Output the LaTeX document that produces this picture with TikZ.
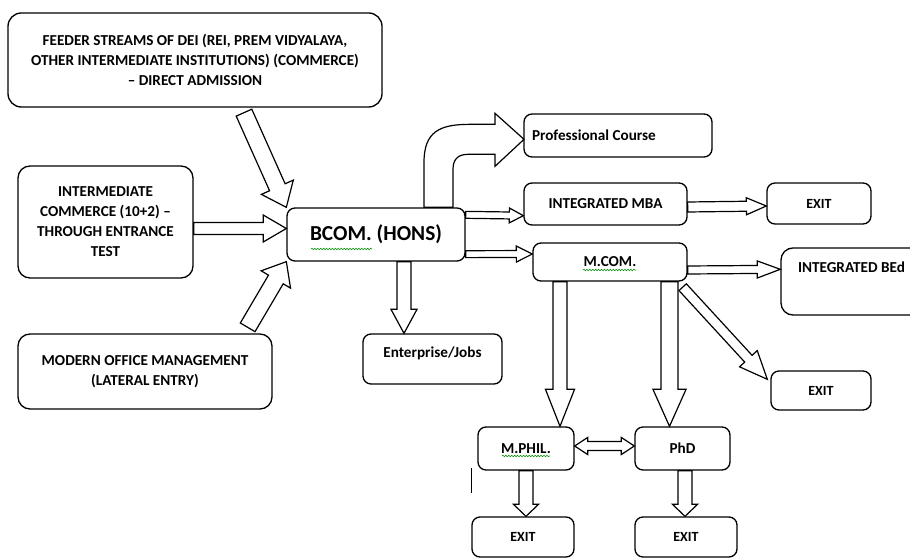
\documentclass[tikz,border=0pt]{standalone}
\usepackage{fontspec}
\setmainfont{Carlito}
\usetikzlibrary{calc,decorations.pathmorphing}

\tikzset{
  box/.style={draw, line width=1pt, rounded corners=6pt, align=center,
    font=\bfseries\fontsize{11.4}{15}\selectfont, inner sep=0pt},
  exitbox/.style={box, font=\bfseries\fontsize{10.5}{15}\selectfont},
  boxsize/.style 2 args={minimum width=#1*0.75pt, minimum height=#2*0.75pt},
  squiggle/.style={draw=green!55!black, line width=0.4pt,
    decorate, decoration={snake, amplitude=0.6pt, segment length=2.2pt}},
  fat size/.code n args={3}{\def\fatw{#1}\def\fath{#2}\def\fatl{#3}},
  fat/.style={draw, fill=white, line width=0.9pt, fat size/.expanded=#1, to path={
    let \p1=(\tikztostart), \p2=(\tikztotarget), \n1={atan2(\y2-\y1,\x2-\x1)} in
    ($(\p1)+(\n1+90:\fatw)$) -- ($(\p2)+(\n1+180:\fatl)+(\n1+90:\fatw)$)
    -- ($(\p2)+(\n1+180:\fatl)+(\n1+90:\fath)$) -- (\p2)
    -- ($(\p2)+(\n1+180:\fatl)+(\n1-90:\fath)$) -- ($(\p2)+(\n1+180:\fatl)+(\n1-90:\fatw)$)
    -- ($(\p1)+(\n1-90:\fatw)$) -- cycle}},
  fatboth/.style={draw, fill=white, line width=0.9pt, fat size/.expanded=#1, to path={
    let \p1=(\tikztostart), \p2=(\tikztotarget), \n1={atan2(\y2-\y1,\x2-\x1)} in
    ($(\p1)+(\n1:\fatl)+(\n1+90:\fatw)$) -- ($(\p2)+(\n1+180:\fatl)+(\n1+90:\fatw)$)
    -- ($(\p2)+(\n1+180:\fatl)+(\n1+90:\fath)$) -- (\p2)
    -- ($(\p2)+(\n1+180:\fatl)+(\n1-90:\fath)$) -- ($(\p2)+(\n1+180:\fatl)+(\n1-90:\fatw)$)
    -- ($(\p1)+(\n1:\fatl)+(\n1-90:\fatw)$) -- ($(\p1)+(\n1:\fatl)+(\n1-90:\fath)$)
    -- (\p1) -- ($(\p1)+(\n1:\fatl)+(\n1+90:\fath)$) -- cycle}}
}

\begin{document}
\begin{tikzpicture}[x=0.75pt, y=-0.75pt]
\path[use as bounding box, fill=white] (0,0) rectangle (910,559);

% Entry routes
\node[box, boxsize={374}{94}, rounded corners=10pt] (feeder) at (195,60)
  {FEEDER STREAMS OF DEI (REI, PREM VIDYALAYA,\\ OTHER INTERMEDIATE INSTITUTIONS) (COMMERCE)\\ -- DIRECT ADMISSION};
\node[box, boxsize={175}{112}, rounded corners=9pt] (inter) at (105.5,222)
  {INTERMEDIATE\\ COMMERCE (10+2) --\\ THROUGH ENTRANCE\\ TEST};
\node[box, boxsize={254}{75}, rounded corners=9pt] (modern) at (145,371.5)
  {MODERN OFFICE MANAGEMENT\\ (LATERAL ENTRY)};

% Programme
\node[box, boxsize={178}{53}, font=\bfseries\fontsize{16}{18}\selectfont] (bcom) at (376,234.5) {BCOM. (HONS)};
\node[box, boxsize={139}{50}, text height=17.6pt, text depth=19.9pt] (jobs) at (432.5,359) {Enterprise/Jobs};

% Next steps
\node[box, boxsize={188}{43}, align=justify, text width=129pt, inner xsep=6pt] (prof) at (618,135.5) {Professional Course};
\node[box, boxsize={163}{42}] (mba) at (605.5,204) {INTEGRATED MBA};
\node[exitbox, boxsize={104}{41}] (exitmba) at (819,203.5) {EXIT};
\node[box, boxsize={154}{38}] (mcom) at (610,262) {M.COM.};
\node[box, boxsize={160}{67}, align=justify, text width=94.5pt, inner xsep=12.75pt,
  text height=18.4pt, text depth=31.9pt, rounded corners=9pt] (bed) at (861,281.5) {INTEGRATED BEd};
\node[exitbox, boxsize={100}{39}] (exitmcom) at (821,390.5) {EXIT};
\node[box, boxsize={96}{43}] (mphil) at (526,448.5) {M.PHIL.};
\node[box, boxsize={95}{43}] (phd) at (682.5,448.5) {PhD};
\node[exitbox, boxsize={102}{40}] (exitmphil) at (523,537) {EXIT};
\node[exitbox, boxsize={102}{40}] (exitphd) at (686,537) {EXIT};

% Spell-check marks
\draw[squiggle] ($(bcom.center)+(-65,14.5)$) -- ($(bcom.center)+(-4,14.5)$);
\draw[squiggle] ($(mcom.center)+(-27,8)$) -- ($(mcom.center)+(26,8)$);
\draw[squiggle] ($(mphil.center)+(-24,7.5)$) -- ($(mphil.center)+(24,7.5)$);

% Block arrows into BCOM
\draw[fat={{6.4pt}{13.1pt}{16.5pt}}] ($(feeder.south)+(49,5)$) to (bcom.north west);
\draw[fat={{4.5pt}{10.1pt}{17.3pt}}] ($(inter.east)+(0,6.5)$) to ($(bcom.west)+(0,-6)$);
\draw[fat={{6.4pt}{12.8pt}{15.5pt}}] ($(modern.north east)+(-25,-6)$) to (bcom.south west);

% Block arrows out of BCOM
\draw[fat={{5.25pt}{9.75pt}{18pt}}] ($(bcom.south)+(28,0)$) to ($(jobs.north)+(-28.5,0)$);
\draw[fat={{2.6pt}{5.6pt}{10.5pt}}] ($(bcom.north east)+(0,7.5)$) to ($(mba.south west)+(0,-10)$);
\draw[fat={{2.6pt}{6pt}{12pt}}] ($(bcom.south east)+(0,-7.5)$) to ($(mcom.west)+(0,-8)$);
\begin{scope}[shift={(bcom.north)}]
\draw[fill=white, line width=0.9pt] (48,0) -- (48,-45) .. controls (48,-76) and (64,-83) .. (94,-83)
  -- (119,-83) -- (119,-94) -- (148,-68) -- (119,-41) -- (119,-53) -- (92,-53)
  .. controls (82,-53) and (77,-48) .. (77,-38) -- (77,0) -- cycle;
\end{scope}

% Block arrows after MBA / M.COM
\draw[fat={{3.75pt}{6.4pt}{15pt}}] ($(mba.east)+(0,3)$) to ($(exitmba.west)+(0,2.5)$);
\draw[fat={{3pt}{6.4pt}{17.3pt}}] ($(mcom.east)+(0,8)$) to ($(bed.north west)+(0,22)$);
\draw[fat={{3.75pt}{9pt}{21pt}}] ($(mcom.south east)+(-5,5.5)$) to ($(exitmcom.north west)+(-3,9)$);
\draw[fat={{5.25pt}{10.9pt}{27.75pt}}] ($(mcom.south)+(-50,0)$) to ($(mphil.north)+(34,0)$);
\draw[fat={{6.4pt}{12.4pt}{27.75pt}}] ($(mcom.south)+(59.5,0)$) to ($(phd.north)+(-13,0)$);
\draw[fatboth={{3.4pt}{6.4pt}{9.75pt}}] ($(mphil.east)+(0,-2.5)$) to ($(phd.west)+(0,-2.5)$);
\draw[fat={{5.25pt}{9.4pt}{9pt}}] (mphil.south) to (exitmphil.north -| mphil.south);
\draw[fat={{5.25pt}{9.4pt}{9pt}}] ($(phd.south)+(2.5,0)$) to ($(exitphd.north)+(-1,0)$);

% Cursor mark
\draw[line width=0.6pt] (471,468) -- (471,493);
\end{tikzpicture}
\end{document}
